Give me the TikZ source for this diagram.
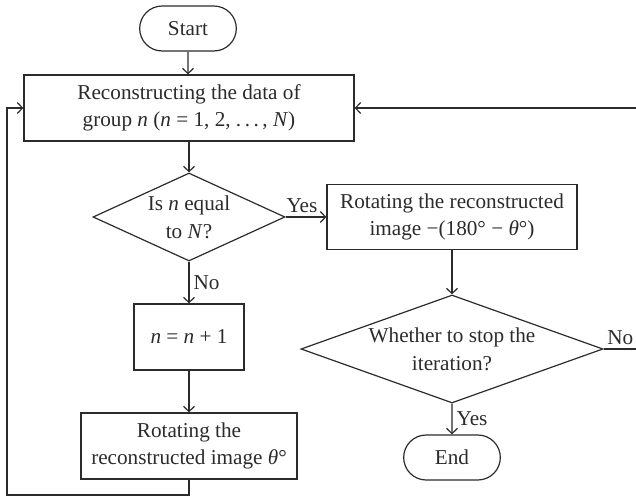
\documentclass[tikz,border=0pt]{standalone}
\usepackage{fontspec}
\setmainfont{Liberation Serif}
\usetikzlibrary{shapes.geometric, shapes.misc}
\usetikzlibrary{arrows.meta}
\definecolor{linegray}{HTML}{2B2B2B}

\begin{document}
\begin{tikzpicture}[x=0.5pt, y=-0.5pt, line width=0.6pt, color=linegray,
			>={Straight Barb[length=2.6pt, width=5.4pt]},
			internal/.style={draw, rectangle, minimum height=33pt, inner sep=2pt},
			terminal/.style={draw, rounded rectangle, minimum width=55pt, minimum height=22.5pt},
			decision/.style={draw, diamond, inner sep=0pt},
			answer/.style={inner sep=2pt},
			every text node part/.style={align=center},
			font=\fontsize{10.6}{13.8}\selectfont]
			\useasboundingbox (0,0) rectangle (636,496);
			
			\node[terminal](node1) at (188, 28.5) {Start};
			
			\node[internal, minimum width=165pt](node2) at (189, 108) {Reconstructing the data of\\ group \textit{n} (\textit{n} = 1, 2, .\,.\,.\,, \textit{N})};
			\draw[->] (node1) -- (node1 |- node2.north);
			
			\node[decision, aspect=2.17, minimum width=96pt, minimum height=44pt](node3) at (189, 217) {Is \textit{n} equal\\ to \textit{N}?};
			\draw[->] (node2) edge (node3);
			
			\node[internal, minimum width=125pt, minimum height=32.5pt](node4) at (452, 217) {Rotating the reconstructed\\ image −(180° − \textit{θ}°)};
			\draw[->] (node3) -- node[answer, above, pos=0.4](label1) {Yes} (node4);
			
			\node[internal, minimum width=55pt](node5) at (189, 337) {\textit{n} = \textit{n} + 1};
			\draw[->] (node3) -- node[answer, right](label2) {No} (node5);
			
			\node[decision, aspect=2.8, minimum width=151pt, minimum height=54pt](node6) at (452, 349) {Whether to stop the\\ iteration?};
			\draw[->] (node4) edge (node6);
			
			\node[internal, minimum width=108pt](node7) at (189, 446) {Rotating the\\ reconstructed image \textit{θ}°};
			\draw[->] (node5) edge (node7);
			
			\node[terminal](node8) at (452, 457.5) {End};
			\draw[->] (node6) -- node[answer, right](label3) {Yes} (node8);
			
			% loops back to the top box
			\coordinate (corner1) at (637, 349);
			\coordinate (corner2) at (7, 495);
			\draw[->] (node6.east) -- node[answer, above](label4) {No} (corner1) |- (node2.east);
			\draw[->] (node7.south) |- (corner2) |- (node2.west);
			\end{tikzpicture}
\end{document}
